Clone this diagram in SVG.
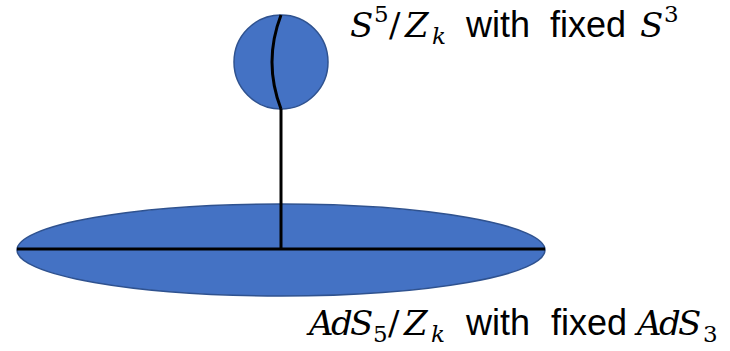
<svg xmlns="http://www.w3.org/2000/svg" width="730" height="351" viewBox="0 0 730 351">
<style>
.shape{fill:#4472C4;stroke:#2F528F;stroke-width:1.5}
.ln{fill:none;stroke:#000;stroke-width:3}
.lbl{fill:#000}
.t{font-family:"Liberation Sans",Arial,sans-serif;font-size:36px}
.m{font-family:"DejaVu Serif","Liberation Serif",serif;font-style:italic;font-size:34px}
.mu{font-family:"DejaVu Serif","Liberation Serif",serif;font-size:34px}
.s{font-family:"DejaVu Serif","Liberation Serif",serif;font-size:23px}
.si{font-family:"DejaVu Serif","Liberation Serif",serif;font-style:italic;font-size:23px}
</style>
<rect width="730" height="351" fill="#fff"/>
<g id="plane">
<ellipse class="shape" cx="281" cy="250" rx="264" ry="46"/>
</g>
<g id="sphere">
<circle class="shape" cx="281" cy="62" r="47"/>
<path class="ln" d="M281,15 Q263,62 281,109"/>
</g>
<g id="connectors">
<line class="ln" x1="281" y1="109" x2="281" y2="250"/>
<line class="ln" x1="17" y1="249" x2="545" y2="249"/>
</g>
<g id="label-top">
<text class="lbl"><tspan class="m" x="350" y="37">S</tspan><tspan class="s" x="374" y="22">5</tspan><tspan class="mu" x="389" y="37">/</tspan><tspan class="m" x="405" y="37">Z</tspan><tspan class="si" x="432" y="44">k</tspan><tspan class="t" x="466" y="37">with</tspan><tspan class="t" x="550" y="37">fixed</tspan><tspan class="m" x="640" y="37">S</tspan><tspan class="s" x="664" y="22">3</tspan></text>
</g>
<g id="label-bottom">
<text class="lbl"><tspan class="m" x="309 331 350" y="335">AdS</tspan><tspan class="s" x="373" y="342">5</tspan><tspan class="mu" x="388" y="335">/</tspan><tspan class="m" x="404" y="335">Z</tspan><tspan class="si" x="431" y="342">k</tspan><tspan class="t" x="466" y="335">with</tspan><tspan class="t" x="551" y="335">fixed</tspan><tspan class="m" x="637 659 678" y="335">AdS</tspan><tspan class="s" x="703" y="342">3</tspan></text>
</g>
</svg>
